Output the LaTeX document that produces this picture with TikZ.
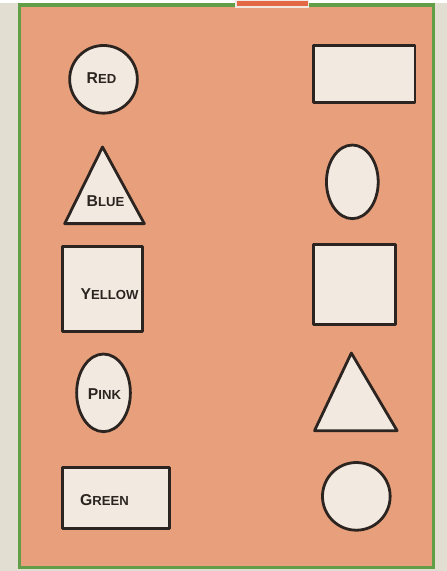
\documentclass[tikz,border=0pt]{standalone}
\usepackage{fontspec}
\setsansfont{Liberation Sans}
\definecolor{paper}{RGB}{226,222,210}
\definecolor{salmon}{RGB}{232,160,124}
\definecolor{leaf}{RGB}{98,158,72}
\definecolor{chalk}{RGB}{242,234,224}
\definecolor{ink}{RGB}{44,36,32}
\definecolor{tab}{RGB}{226,104,70}
\newcommand{\capword}[2]{{\fontsize{9}{9}\selectfont #1}{\fontsize{7.5}{9}\selectfont #2}}

\begin{document}
\begin{tikzpicture}[x=0.02cm,y=-0.02cm,
    cutout/.style={draw=ink, fill=chalk, line width=1.6pt, line join=round},
    lbl/.style={font=\sffamily\bfseries, text=ink, inner sep=0pt}]
    \fill[paper] (0,0) rectangle (449,571);
    \filldraw[fill=salmon, draw=leaf, line width=2pt] (19.5,2.5) rectangle (435.5,567.5);
    \filldraw[fill=tab, draw=chalk, line width=0.8pt] (237,-2) rectangle (310,4.5);
    % left column
    \draw[cutout] (104,77) circle (34);
    \draw[cutout] (103,145) -- (145,222) -- (65,222) -- cycle;
    \draw[cutout] (63,245) rectangle (143,330);
    \draw[cutout] (104,392) ellipse (27 and 39);
    \draw[cutout] (63,467) rectangle (170,528);
    \node[lbl] (red) at (102,76) {\capword{R}{ED}};
    \node[lbl] (blue) at (106,199) {\capword{B}{LUE}};
    \node[lbl] (yellow) at (110,293) {\capword{Y}{ELLOW}};
    \node[lbl] (pink) at (105,393) {\capword{P}{INK}};
    \node[lbl] (green) at (105,500) {\capword{G}{REEN}};
    % right column
    \draw[cutout] (315,43) rectangle (417,100);
    \draw[cutout] (354,180) ellipse (26 and 37);
    \draw[cutout] (315,243) rectangle (397,323);
    \draw[cutout] (353,352) -- (399,430) -- (316,430) -- cycle;
    \draw[cutout] (358,496) circle (34);
\end{tikzpicture}
\end{document}
